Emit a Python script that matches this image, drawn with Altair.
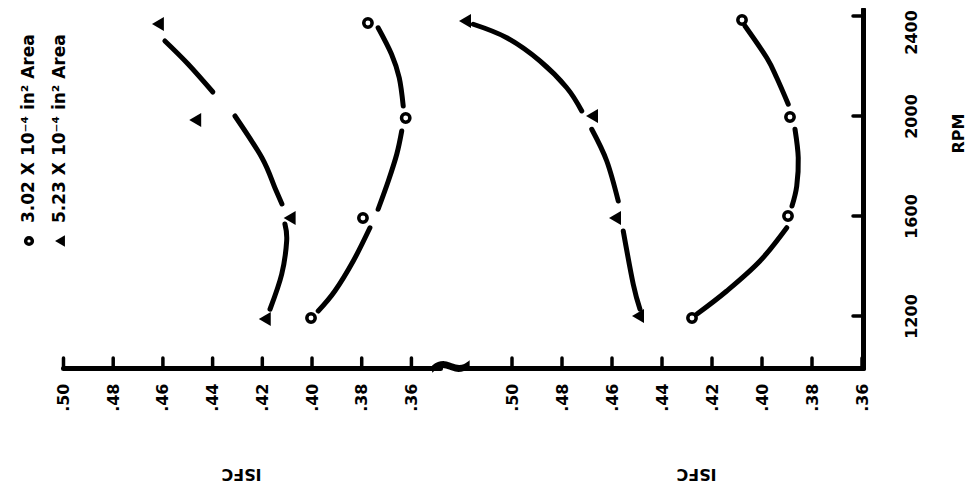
import altair as alt
import pandas as pd

# ---------------- data ----------------
SERIES = ["3.02 X 10⁻⁴ in² Area", "5.23 X 10⁻⁴ in² Area"]
RPM_TICKS = [1200, 1600, 2000, 2400]
ISFC_TICKS = [0.50, 0.48, 0.46, 0.44, 0.42, 0.40, 0.38, 0.36]

# measured points (ISFC, RPM)
LEFT_CIRCLE_ISFC = [0.4004, 0.3795, 0.3623, 0.3775]
LEFT_CIRCLE_RPM = [1192, 1592, 1992, 2372]
LEFT_TRI_ISFC = [0.4190, 0.4090, 0.4470, 0.4620]
LEFT_TRI_RPM = [1188, 1592, 1984, 2368]
RIGHT_CIRCLE_ISFC = [0.4280, 0.3896, 0.3888, 0.4080]
RIGHT_CIRCLE_RPM = [1192, 1600, 1996, 2384]
RIGHT_TRI_ISFC = [0.4496, 0.4588, 0.4680, 0.5188]
RIGHT_TRI_RPM = [1200, 1592, 2000, 2380]

# hand-faired curves, drawn in broken segments
LT_SEG = [1, 1, 1, 2, 2, 2, 2, 3, 3, 3, 3]
LT_ISFC = [.4592, .4499, .4399, .4310, .4201, .4149, .4121, .4109, .4102, .4122, .4169]
LT_RPM = [2300, 2208, 2096, 2000, 1832, 1712, 1648, 1568, 1500, 1367, 1227]

LC_SEG = [1, 1, 1, 1, 2, 2, 2, 2, 3, 3, 3, 3]
LC_ISFC = [.3734, .3680, .3649, .3633, .3639, .3659, .3693, .3734, .3767, .3834, .3908, .3975]
LC_RPM = [2353, 2247, 2153, 2040, 1940, 1847, 1740, 1627, 1553, 1420, 1300, 1220]

RT_SEG = [1, 1, 1, 1, 1, 2, 2, 2, 3, 3, 3]
RT_ISFC = [.5155, .5021, .4888, .4781, .4721, .4681, .4621, .4575, .4555, .4515, .4488]
RT_RPM = [2367, 2313, 2220, 2113, 2020, 1947, 1820, 1660, 1540, 1327, 1227]

RC_SEG = [1, 1, 1, 1, 2, 2, 2, 2, 3, 3, 3, 3]
RC_ISFC = [.4068, .3981, .3941, .3895, .3868, .3855, .3861, .3880, .3901, .4008, .4141, .4260]
RC_RPM = [2360, 2233, 2153, 2047, 1947, 1833, 1720, 1640, 1553, 1420, 1300, 1208]

# ---------------- layout / style ----------------
FONT = "DejaVu Sans"
H = 359
W_LEG, W_L, W_R = 55, 377, 401
Y_DOMAIN = [992, 2428]
LEFT_DOMAIN = [0.3485, 0.5002]
RIGHT_DOMAIN = [0.3596, 0.5200]
NO_FRAME = alt.ViewBackground(stroke="transparent", strokeWidth=0, strokeOpacity=0)


def points_df(c_isfc, c_rpm, t_isfc, t_rpm):
    return pd.DataFrame({
        "isfc": c_isfc + t_isfc,
        "rpm": c_rpm + t_rpm,
        "series": [SERIES[0]] * len(c_isfc) + [SERIES[1]] * len(t_isfc),
    })


def curves_df(specs):
    rows = []
    for name, seg, isfc, rpm in specs:
        for s, i, r in zip(seg, isfc, rpm):
            rows.append({"curve": f"{name}-{s}", "isfc": i, "rpm": r})
    return pd.DataFrame(rows)


def panel(points, curves, domain, width, right_axis, title_x, brk):
    x_axis = alt.Axis(
        values=ISFC_TICKS,
        labelExpr="replace(format(datum.value, '.2f'), '0.', '.')",
        title="ISFC", grid=False, ticks=False, tickSize=0,
        domainColor="black", domainWidth=5, domainCap="round",
        labelAngle=270, labelAlign="right", labelBaseline="middle",
        labelPadding=15, labelFont=FONT, labelFontSize=16,
        labelFontWeight="bold", labelColor="black",
        titleAngle=180, titleX=title_x, titleY=105, titleAlign="center",
        titleBaseline="middle", titleFont=FONT, titleFontSize=16,
        titleFontWeight="bold", titleColor="black",
    )
    if right_axis:
        y_axis = alt.Axis(
            orient="right", values=RPM_TICKS, format="d", title="RPM",
            grid=False, ticks=False, tickSize=0,
            domainColor="black", domainWidth=5, domainCap="round",
            labelAngle=270, labelAlign="center", labelBaseline="middle",
            labelOffset={"condition": {"test": "datum.value >= 2400", "value": 16},
                         "value": 0},
            labelPadding=48, labelFont=FONT, labelFontSize=16,
            labelFontWeight="bold", labelColor="black",
            titleAngle=270, titleX=95, titleY=124, titleAlign="center",
            titleBaseline="middle", titleFont=FONT, titleFontSize=16,
            titleFontWeight="bold", titleColor="black",
        )
    else:
        y_axis = None
    bx = alt.X("isfc:Q", title="ISFC",
               scale=alt.Scale(domain=domain, reverse=True, nice=False, zero=False),
               axis=x_axis)
    by = alt.Y("rpm:Q", title="RPM",
               scale=alt.Scale(domain=Y_DOMAIN, nice=False, zero=False),
               axis=y_axis)

    lines = alt.Chart(curves).mark_line(
        color="black", strokeWidth=5, strokeCap="round", interpolate="cardinal"
    ).encode(x=bx, y=by, detail="curve:N", order="rpm:Q")

    circles = alt.Chart(points).transform_filter(
        alt.datum.series == SERIES[0]
    ).mark_point(shape="circle", filled=False, color="black",
                 strokeWidth=3.5, size=70, opacity=1).encode(x=bx, y=by)

    tris = alt.Chart(points).transform_filter(
        alt.datum.series == SERIES[1]
    ).mark_point(shape="triangle-left", filled=True, color="black",
                 size=190, opacity=1).encode(x=bx, y=by)

    xticks = alt.Chart(pd.DataFrame({"isfc": ISFC_TICKS})).mark_rule(
        color="black", strokeWidth=3.5, strokeCap="round"
    ).encode(x=bx, y=alt.value(H), y2=alt.value(H - 10))

    layers = [lines, circles, tris, xticks]
    if right_axis:
        yticks = alt.Chart(pd.DataFrame({"rpm": RPM_TICKS})).mark_rule(
            color="black", strokeWidth=3.5, strokeCap="round"
        ).encode(y=by, x=alt.value(width), x2=alt.value(width - 10))
        layers.append(yticks)
    if brk:
        squig = alt.Chart(pd.DataFrame({"t": ["~"]})).mark_text(
            font=FONT, fontSize=60, fontWeight="bold", color="black",
            align="center", baseline="middle"
        ).encode(text="t:N", x=alt.value(width + 11), y=alt.value(H))
        layers.append(squig)
    return alt.layer(*layers).properties(width=width, height=H, view=NO_FRAME)


left_pts = points_df(LEFT_CIRCLE_ISFC, LEFT_CIRCLE_RPM, LEFT_TRI_ISFC, LEFT_TRI_RPM)
right_pts = points_df(RIGHT_CIRCLE_ISFC, RIGHT_CIRCLE_RPM, RIGHT_TRI_ISFC, RIGHT_TRI_RPM)
left_curves = curves_df([("tri", LT_SEG, LT_ISFC, LT_RPM), ("cir", LC_SEG, LC_ISFC, LC_RPM)])
right_curves = curves_df([("tri", RT_SEG, RT_ISFC, RT_RPM), ("cir", RC_SEG, RC_ISFC, RC_RPM)])

left = panel(left_pts, left_curves, LEFT_DOMAIN, W_L, False, 178, True)
right = panel(right_pts, right_curves, RIGHT_DOMAIN, W_R, True, 234, False)

# ---------------- hand-built legend (rotated, like the figure) ----------------
leg = pd.DataFrame({"series": SERIES})
lx = alt.X("series:N", axis=None,
           scale=alt.Scale(type="point", domain=SERIES, range=[21, 52], padding=0))
leg_c = alt.Chart(leg).transform_filter(alt.datum.series == SERIES[0]).mark_point(
    shape="circle", filled=False, color="black", strokeWidth=3.5, size=45, opacity=1
).encode(x=lx, y=alt.value(232))
leg_t = alt.Chart(leg).transform_filter(alt.datum.series == SERIES[1]).mark_point(
    shape="triangle-left", filled=True, color="black", size=130, opacity=1
).encode(x=lx, y=alt.value(232))
leg_txt = alt.Chart(leg).mark_text(
    angle=270, align="left", baseline="middle", font=FONT, fontSize=17,
    fontWeight="bold", color="black"
).encode(x=lx, y=alt.value(214), text="series:N")
legend = alt.layer(leg_c, leg_t, leg_txt).properties(width=W_LEG, height=H, view=NO_FRAME)

inner = alt.hconcat(left, right, spacing=22, bounds="flush")
chart = alt.hconcat(legend, inner, spacing=0, bounds="flush").properties(
    padding={"left": 0, "top": 0, "right": 3, "bottom": 10}
).configure_view(stroke="transparent", strokeWidth=0, strokeOpacity=0).configure(background="white")

chart.save("out.html", embed_options={"renderer": "svg", "actions": False})
